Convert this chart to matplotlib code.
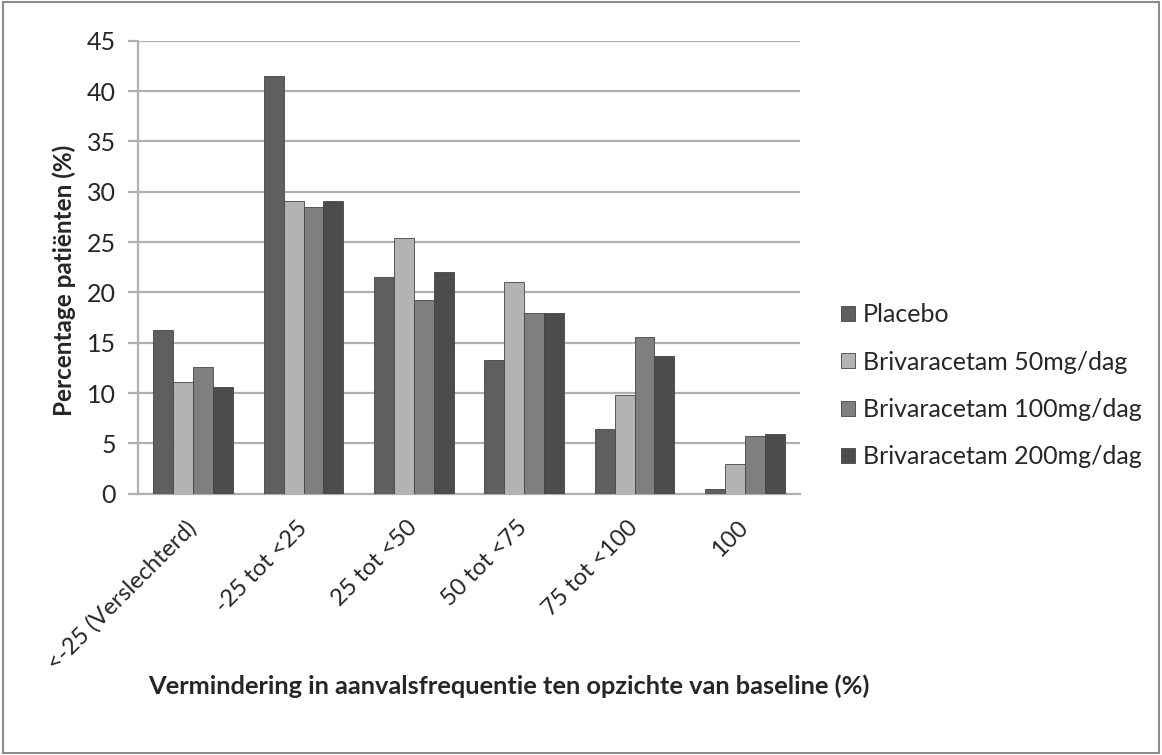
import matplotlib.pyplot as plt
import numpy as np

categories = ["<-25 (Verslechterd)", "-25 tot <25", "25 tot <50", "50 tot <75", "75 tot <100", "100"]
series_names = ["Placebo", "Brivaracetam 50mg/dag", "Brivaracetam 100mg/dag", "Brivaracetam 200mg/dag"]
placebo = [16.3, 41.5, 21.5, 13.3, 6.4, 0.5]
briv_50 = [11.1, 29.1, 25.4, 21.0, 9.8, 3.0]
briv_100 = [12.6, 28.5, 19.2, 18.0, 15.6, 5.7]
briv_200 = [10.6, 29.1, 22.0, 18.0, 13.7, 5.9]
colors = ["#5f5f5f", "#b3b3b3", "#7f7f7f", "#4c4c4c"]

plt.rcParams['font.family'] = ['Lato', 'DejaVu Sans']
plt.rcParams['text.color'] = "#262626"

fig = plt.figure(figsize=(11.62, 7.55), dpi=100)
ax = fig.add_axes([0.1188, 0.346, 0.5697, 0.600])

x = np.arange(len(categories))
w = 0.18
for i, (vals, name) in enumerate(zip([placebo, briv_50, briv_100, briv_200], series_names)):
    ax.bar(x + (i - 1.5) * w, vals, w, color=colors[i], label=name,
           edgecolor="#444444", linewidth=0.6, zorder=3)

ax.set_xlim(-0.5, len(categories) - 0.5)
ax.set_ylim(0, 45)
ax.set_yticks(range(0, 50, 5))
ax.yaxis.grid(True, color="#b0b0b0", linewidth=1.6, zorder=0)
ax.set_axisbelow(True)
for s in ["top", "right"]:
    ax.spines[s].set_visible(False)
for s in ["left", "bottom"]:
    ax.spines[s].set_color("#b0b0b0")
    ax.spines[s].set_linewidth(1.6)
ax.tick_params(axis="y", length=7, width=1.6, color="#b0b0b0", labelsize=18, pad=9,
               labelcolor="#262626")
ax.tick_params(axis="x", length=0, labelsize=17, pad=22, labelcolor="#262626")
ax.set_xticks(x)
ax.set_xticklabels(categories, rotation=45, ha="right", va="center", rotation_mode="anchor")

fig.text(64 / 1162, 0.629, "Percentage patiënten (%)", rotation=90,
         ha="center", va="center", fontsize=17.5, fontweight="bold")
fig.text(509 / 1162, 0.0914, "Vermindering in aanvalsfrequentie ten opzichte van baseline (%)",
         ha="center", va="center", fontsize=18.3, fontweight="bold")

fig.legend(loc="center left", bbox_to_anchor=(0.724, 0.489), frameon=False, fontsize=18,
           handlelength=0.55, handleheight=0.55, handletextpad=0.3, labelspacing=0.97,
           borderpad=0, borderaxespad=0)

fig.patches.append(plt.Rectangle((0.003, 0.003), 0.994, 0.994, transform=fig.transFigure,
                                 fill=False, edgecolor="#8c8c8c", linewidth=1.5))

fig.savefig("out.png", dpi=100)
